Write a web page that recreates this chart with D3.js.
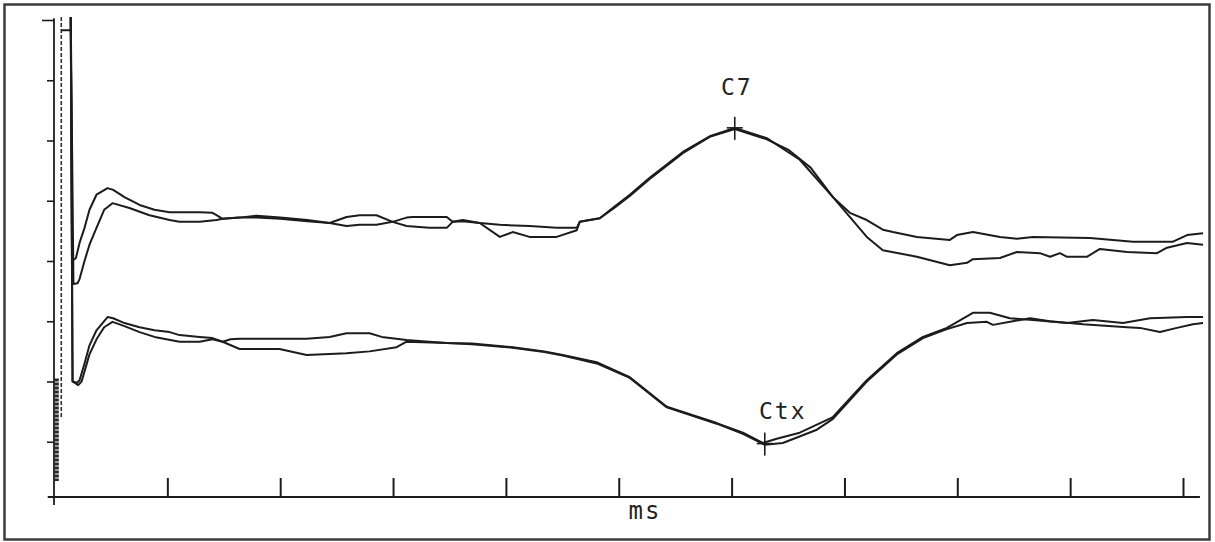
<!DOCTYPE html>
<html>
<head>
<meta charset="utf-8">
<script src="https://cdn.jsdelivr.net/npm/d3@7"></script>
<style>
  html, body { margin: 0; padding: 0; background: #fff; }
  svg { display: block; }
  .trace { fill: none; stroke: #1c1c1c; stroke-width: 2; stroke-linejoin: round; }
  .axis line, .axis path { stroke: #1c1c1c; }
  .lbl { font-family: "DejaVu Sans Mono", monospace; fill: #222; }
</style>
</head>
<body>
<div id="chart"></div>
<script>
  var width = 1215, height = 542;

  // time axis ticks (ms) and amplitude divisions
  var xTicks = [5, 10, 15, 20, 25, 30, 35, 40, 45, 50];
  var yTicks = [1, 2, 3, 4, 5, 6, 7, 8];

  // C7 recordings (two superimposed runs), [ms, divisions]
  var c7RunA = [
    [0.72, 8.05], [0.78, 4.0], [0.95, 4.05], [1.11, 4.3], [1.33, 4.55], [1.55, 4.85], [1.86, 5.1],
    [2.35, 5.21], [2.6, 5.18], [3.1, 5.06], [3.77, 4.93], [4.43, 4.85], [5.1, 4.81], [6.43, 4.81],
    [7.0, 4.8], [7.18, 4.76], [7.45, 4.7], [8.2, 4.72], [8.95, 4.75], [10.0, 4.72], [11.2, 4.68],
    [12.19, 4.63], [12.94, 4.73], [13.52, 4.76], [14.27, 4.76], [14.98, 4.65], [15.6, 4.72],
    [15.87, 4.73], [17.38, 4.73], [17.64, 4.65], [18.09, 4.66], [18.84, 4.63], [19.73, 4.6],
    [21.05, 4.58], [22.25, 4.55], [23.14, 4.55], [23.27, 4.65], [24.16, 4.71], [24.8, 4.9],
    [25.49, 5.1], [26.37, 5.38], [27.84, 5.81], [29.03, 6.07], [30.14, 6.21], [31.56, 6.04],
    [33.02, 5.68], [34.49, 5.06], [35.24, 4.8], [35.99, 4.68], [36.7, 4.52], [37.15, 4.48],
    [38.21, 4.4], [39.67, 4.35], [39.98, 4.43], [40.69, 4.48], [41.89, 4.4], [42.64, 4.37],
    [43.35, 4.4], [45.88, 4.38], [47.78, 4.32], [49.56, 4.32], [50.18, 4.43], [50.89, 4.46]
  ];
  var c7RunB = [
    [0.72, 8.05], [0.84, 3.62], [1.02, 3.63], [1.11, 3.7], [1.33, 4.0], [1.55, 4.27], [1.86, 4.55],
    [2.2, 4.85], [2.57, 4.96], [3.32, 4.88], [4.21, 4.76], [5.1, 4.68], [5.54, 4.65], [6.43, 4.65],
    [7.18, 4.68], [7.45, 4.7], [8.2, 4.72], [8.95, 4.72], [10.0, 4.7], [11.2, 4.66], [12.19, 4.63],
    [12.94, 4.58], [13.52, 4.6], [14.27, 4.6], [14.98, 4.65], [15.6, 4.58], [16.6, 4.55],
    [17.38, 4.55], [17.64, 4.65], [18.09, 4.68], [18.84, 4.63], [19.73, 4.4], [20.3, 4.48],
    [21.05, 4.4], [22.25, 4.4], [23.14, 4.51], [23.27, 4.65], [24.16, 4.71], [24.8, 4.88],
    [25.49, 5.08], [26.37, 5.36], [27.84, 5.79], [29.03, 6.06], [30.14, 6.19], [31.56, 6.02],
    [32.5, 5.85], [33.5, 5.55], [34.49, 5.06], [35.99, 4.4], [36.7, 4.18], [38.21, 4.07],
    [39.67, 3.93], [40.43, 3.97], [40.69, 4.03], [41.89, 4.05], [42.64, 4.15], [43.66, 4.13],
    [44.11, 4.07], [44.55, 4.13], [44.86, 4.07], [45.74, 4.07], [46.32, 4.2], [47.52, 4.15],
    [48.85, 4.13], [49.29, 4.22], [50.18, 4.3], [50.89, 4.27]
  ];

  // cortical recordings (two superimposed runs)
  var ctxRunA = [
    [0.72, 8.05], [0.8, 2.0], [1.0, 1.98], [1.11, 2.02], [1.33, 2.3], [1.55, 2.6], [1.86, 2.85],
    [2.35, 3.07], [2.6, 3.05], [3.1, 2.97], [3.77, 2.9], [4.43, 2.85], [5.1, 2.82], [5.54, 2.77],
    [6.43, 2.74], [7.0, 2.72], [7.45, 2.66], [7.8, 2.7], [8.2, 2.71], [10.0, 2.71], [11.17, 2.71],
    [12.19, 2.74], [12.94, 2.8], [13.96, 2.8], [14.5, 2.74], [15.6, 2.69], [16.6, 2.66],
    [17.38, 2.64], [18.5, 2.63], [20.3, 2.57], [21.7, 2.5], [22.52, 2.44], [24.02, 2.32],
    [25.49, 2.07], [27.13, 1.58], [29.34, 1.31], [30.5, 1.15], [31.38, 0.98], [32.0, 1.05],
    [33.02, 1.15], [34.49, 1.41], [35.99, 2.02], [37.32, 2.47], [38.48, 2.74], [39.54, 2.89],
    [40.69, 3.14], [41.44, 3.14], [42.33, 3.05], [43.35, 3.02], [44.86, 2.97], [46.01, 3.02],
    [47.34, 2.97], [48.54, 3.05], [50.18, 3.07], [50.89, 3.07]
  ];
  var ctxRunB = [
    [0.72, 8.05], [0.8, 2.0], [1.05, 1.94], [1.2, 2.0], [1.55, 2.45], [1.86, 2.7], [2.2, 2.9],
    [2.57, 2.99], [3.1, 2.92], [3.77, 2.82], [4.43, 2.74], [5.54, 2.66], [6.43, 2.66], [7.0, 2.7],
    [7.45, 2.66], [8.2, 2.54], [9.97, 2.54], [11.17, 2.44], [12.94, 2.47], [13.96, 2.5],
    [15.16, 2.57], [15.6, 2.66], [17.38, 2.64], [18.5, 2.62], [20.3, 2.56], [21.7, 2.49],
    [22.52, 2.43], [24.02, 2.3], [25.49, 2.06], [27.13, 1.57], [29.34, 1.3], [30.5, 1.13],
    [31.47, 0.95], [32.27, 0.98], [33.78, 1.2], [34.49, 1.38], [35.99, 2.0], [37.32, 2.45],
    [38.48, 2.72], [39.54, 2.87], [40.43, 2.97], [41.31, 2.99], [41.58, 2.94], [42.46, 3.0],
    [43.22, 3.05], [44.11, 3.0], [45.57, 2.95], [47.52, 2.9], [48.09, 2.89], [48.98, 2.82],
    [49.73, 2.89], [50.44, 2.95], [50.89, 2.97]
  ];

  // marked peaks
  var peakNames = ['C7', 'Ctx'];
  var peakTimes = [30.14, 31.47];
  var peakValues = [6.21, 0.97];

  var stimulusTime = 0.3;

  var svg = d3.select('#chart')
    .append('svg')
    .attr('width', width)
    .attr('height', height);

  var x = d3.scaleLinear().domain([0, 50]).range([54.5, 1183]);
  var y = d3.scaleLinear().domain([0, 8]).range([502, 20]);

  // frame around the figure
  svg.append('rect')
    .attr('x', 4.5).attr('y', 4.5)
    .attr('width', 1205).attr('height', 535)
    .attr('fill', 'none')
    .attr('stroke', '#3c3c3c')
    .attr('stroke-width', 2.5);

  // y axis
  var yAxis = svg.append('g')
    .attr('class', 'axis')
    .attr('transform', 'translate(54,0)')
    .call(d3.axisLeft(y).tickValues(yTicks).tickSize(7).tickFormat(''));
  yAxis.select('.domain').remove();
  yAxis.selectAll('.tick line').attr('stroke-width', 1.6);
  yAxis.selectAll('.tick').filter(function (d) { return d === 8; })
    .select('line').attr('x2', -12);
  svg.append('line')
    .attr('x1', 54).attr('x2', 54)
    .attr('y1', y(8.03)).attr('y2', 505)
    .attr('stroke', '#1c1c1c').attr('stroke-width', 1.8);

  // x axis
  var xAxis = svg.append('g')
    .attr('class', 'axis')
    .attr('transform', 'translate(0,497)')
    .call(d3.axisTop(x).tickValues(xTicks).tickSize(19).tickSizeOuter(0).tickFormat(''));
  xAxis.select('.domain').remove();
  xAxis.selectAll('.tick line').attr('stroke-width', 2);
  svg.append('line')
    .attr('x1', x(-0.3)).attr('x2', x(50.75))
    .attr('y1', 497).attr('y2', 497)
    .attr('stroke', '#1c1c1c').attr('stroke-width', 2.2);

  svg.append('text')
    .attr('class', 'lbl')
    .attr('x', 645).attr('y', 519)
    .attr('text-anchor', 'middle')
    .attr('font-size', 24)
    .attr('letter-spacing', 2)
    .text('ms');

  // stimulus artifact
  svg.append('line')
    .attr('x1', x(stimulusTime)).attr('x2', x(stimulusTime))
    .attr('y1', y(8.05)).attr('y2', y(1.4))
    .attr('stroke', '#333').attr('stroke-width', 1.6)
    .attr('stroke-dasharray', '4,2');
  svg.append('line')
    .attr('x1', x(stimulusTime)).attr('x2', x(0.72))
    .attr('y1', y(7.83)).attr('y2', y(7.83))
    .attr('stroke', '#1c1c1c').attr('stroke-width', 2);
  svg.append('line')
    .attr('x1', x(0.08)).attr('x2', x(0.08))
    .attr('y1', y(2.05)).attr('y2', y(0.35))
    .attr('stroke', '#2a2a2a').attr('stroke-width', 5)
    .attr('stroke-dasharray', '3,1');

  var line = d3.line()
    .x(function (d) { return x(d[0]); })
    .y(function (d) { return y(d[1]); });

  svg.selectAll('path.trace')
    .data([c7RunA, c7RunB, ctxRunA, ctxRunB])
    .enter()
    .append('path')
    .attr('class', 'trace')
    .attr('d', line);

  // peak markers
  var peaks = svg.selectAll('g.peak')
    .data(peakNames)
    .enter()
    .append('g')
    .attr('class', 'peak')
    .attr('transform', function (d, i) {
      return 'translate(' + x(peakTimes[i]) + ',' + y(peakValues[i]) + ')';
    });

  peaks.append('line')
    .attr('x1', 0).attr('x2', 0)
    .attr('y1', -11).attr('y2', 12)
    .attr('stroke', '#1c1c1c').attr('stroke-width', 1.6);
  peaks.append('line')
    .attr('x1', -8).attr('x2', 8)
    .attr('y1', 0).attr('y2', 0)
    .attr('stroke', '#1c1c1c').attr('stroke-width', 1.6);

  peaks.append('text')
    .attr('class', 'lbl')
    .attr('font-size', 23)
    .attr('letter-spacing', 2)
    .attr('text-anchor', 'middle')
    .attr('x', function (d, i) { return i === 0 ? 2 : 18; })
    .attr('y', function (d, i) { return i === 0 ? -33 : -25; })
    .text(function (d) { return d; });
</script>
</body>
</html>
